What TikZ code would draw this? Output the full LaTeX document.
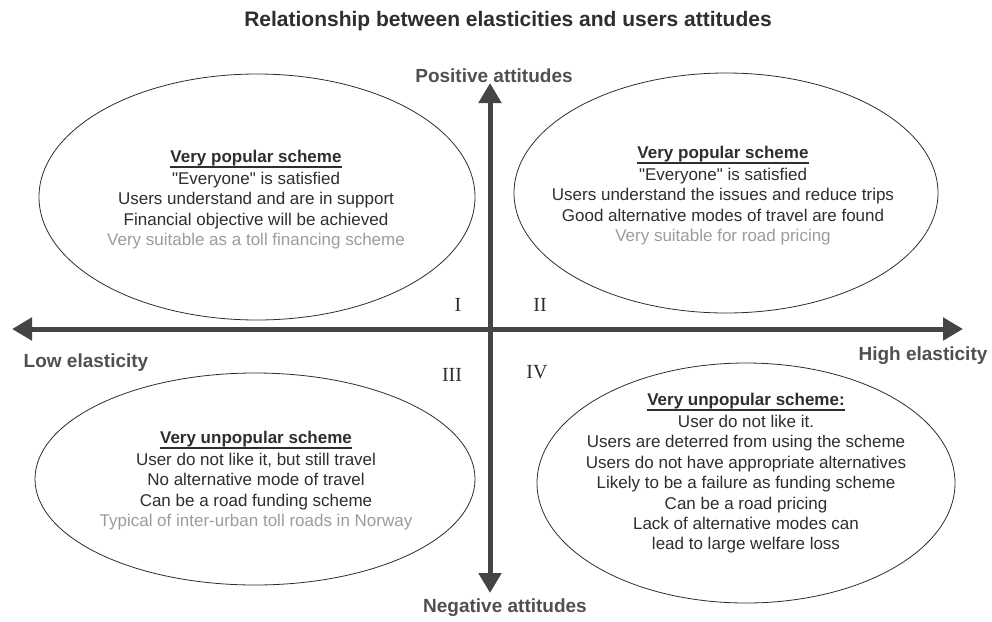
\documentclass[tikz,border=0pt]{standalone}
\usepackage{fontspec}
\setmainfont{Liberation Sans}
\newfontfamily\rawsans{Liberation Sans}
\newfontfamily\numfont{Liberation Serif}
\usetikzlibrary{arrows.meta,shapes.geometric}
\definecolor{txt}{HTML}{2E2E2E}
\definecolor{lite}{HTML}{9C9C9C}
\definecolor{axc}{HTML}{444444}
\definecolor{labc}{HTML}{505050}
\newcommand\ulbar[1]{\setbox0=\hbox{#1}\rlap{\rule[-5.5pt]{\wd0}{1.6pt}}\box0}
\newcommand\dq{{\rawsans"}}
\begin{document}
\begin{tikzpicture}[x=1pt,y=-1pt,
  body/.style={font=\fontsize{17}{20.4}\selectfont, text=txt, align=center, inner sep=0pt, anchor=north},
  oval/.style={draw=txt, line width=0.8pt, ellipse, inner sep=0pt},
  ax/.style={draw=axc, line width=5pt, {Triangle[length=20pt,width=22pt]}-{Triangle[length=20pt,width=22pt]}},
  lab/.style={font=\fontsize{19}{22}\selectfont\bfseries, text=labc, inner sep=0pt},
  num/.style={font=\fontsize{20}{22}\selectfont\numfont, text=txt, inner sep=0pt},
  ttl/.style={font=\fontsize{21}{24}\selectfont\bfseries, text=txt, inner sep=0pt}]
\fill[white] (0,0) rectangle (992,621);
\useasboundingbox (0,0) rectangle (992,621);

\node[ttl] (title) at (508,21) {Relationship between elasticities and users attitudes};

% ellipses
\node[oval, minimum width=436pt, minimum height=246pt] (e1) at (257,197) {};
\node[oval, minimum width=424pt, minimum height=240pt] (e2) at (726,193) {};
\node[oval, minimum width=440pt, minimum height=212pt] (e3) at (255,479) {};
\node[oval, minimum width=418pt, minimum height=240pt] (e4) at (746,483) {};

% axes
\coordinate (L) at (12,329);
\coordinate (R) at (963,329);
\coordinate (T) at (490,83);
\coordinate (B) at (490,593);
\draw[ax] (L) -- (R);
\draw[ax] (B) -- (T);

% axis labels
\node[lab] (pos) at (494,76) {Positive attitudes};
\node[lab] (neg) at (505,608) {Negative attitudes};
\node[lab] (low) at (86,363) {Low elasticity};
\node[lab] (high) at (923,356) {High elasticity};

% quadrant numbers
\node[num] (q1) at (458,305) {I};
\node[num] (q2) at (540,305) {II};
\node[num] (q3) at (452,375) {III};
\node[num] (q4) at (537,372) {IV};

% texts
\node[body] (t1) at (256,150) {\textbf{\ulbar{Very popular scheme}}\\[1.5pt]
\dq Everyone\dq{} is satisfied\\
Users understand and are in support\\
Financial objective will be achieved\\
\textcolor{lite}{Very suitable as a toll financing scheme}};

\node[body] (t2) at (723,146) {\textbf{\ulbar{Very popular scheme}}\\[1.5pt]
\dq Everyone\dq{} is satisfied\\
Users understand the issues and reduce trips\\
Good alternative modes of travel are found\\
\textcolor{lite}{Very suitable for road pricing}};

\node[body] (t3) at (256,431) {\textbf{\ulbar{Very unpopular scheme}}\\[1.5pt]
User do not like it, but still travel\\
No alternative mode of travel\\
Can be a road funding scheme\\
\textcolor{lite}{Typical of inter-urban toll roads in Norway}};

\node[body] (t4) at (746,393) {\textbf{\ulbar{Very unpopular scheme:}}\\[1.5pt]
User do not like it.\\
Users are deterred from using the scheme\\
Users do not have appropriate alternatives\\
Likely to be a failure as funding scheme\\
Can be a road pricing\\
Lack of alternative modes can\\
lead to large welfare loss};
\end{tikzpicture}
\end{document}
